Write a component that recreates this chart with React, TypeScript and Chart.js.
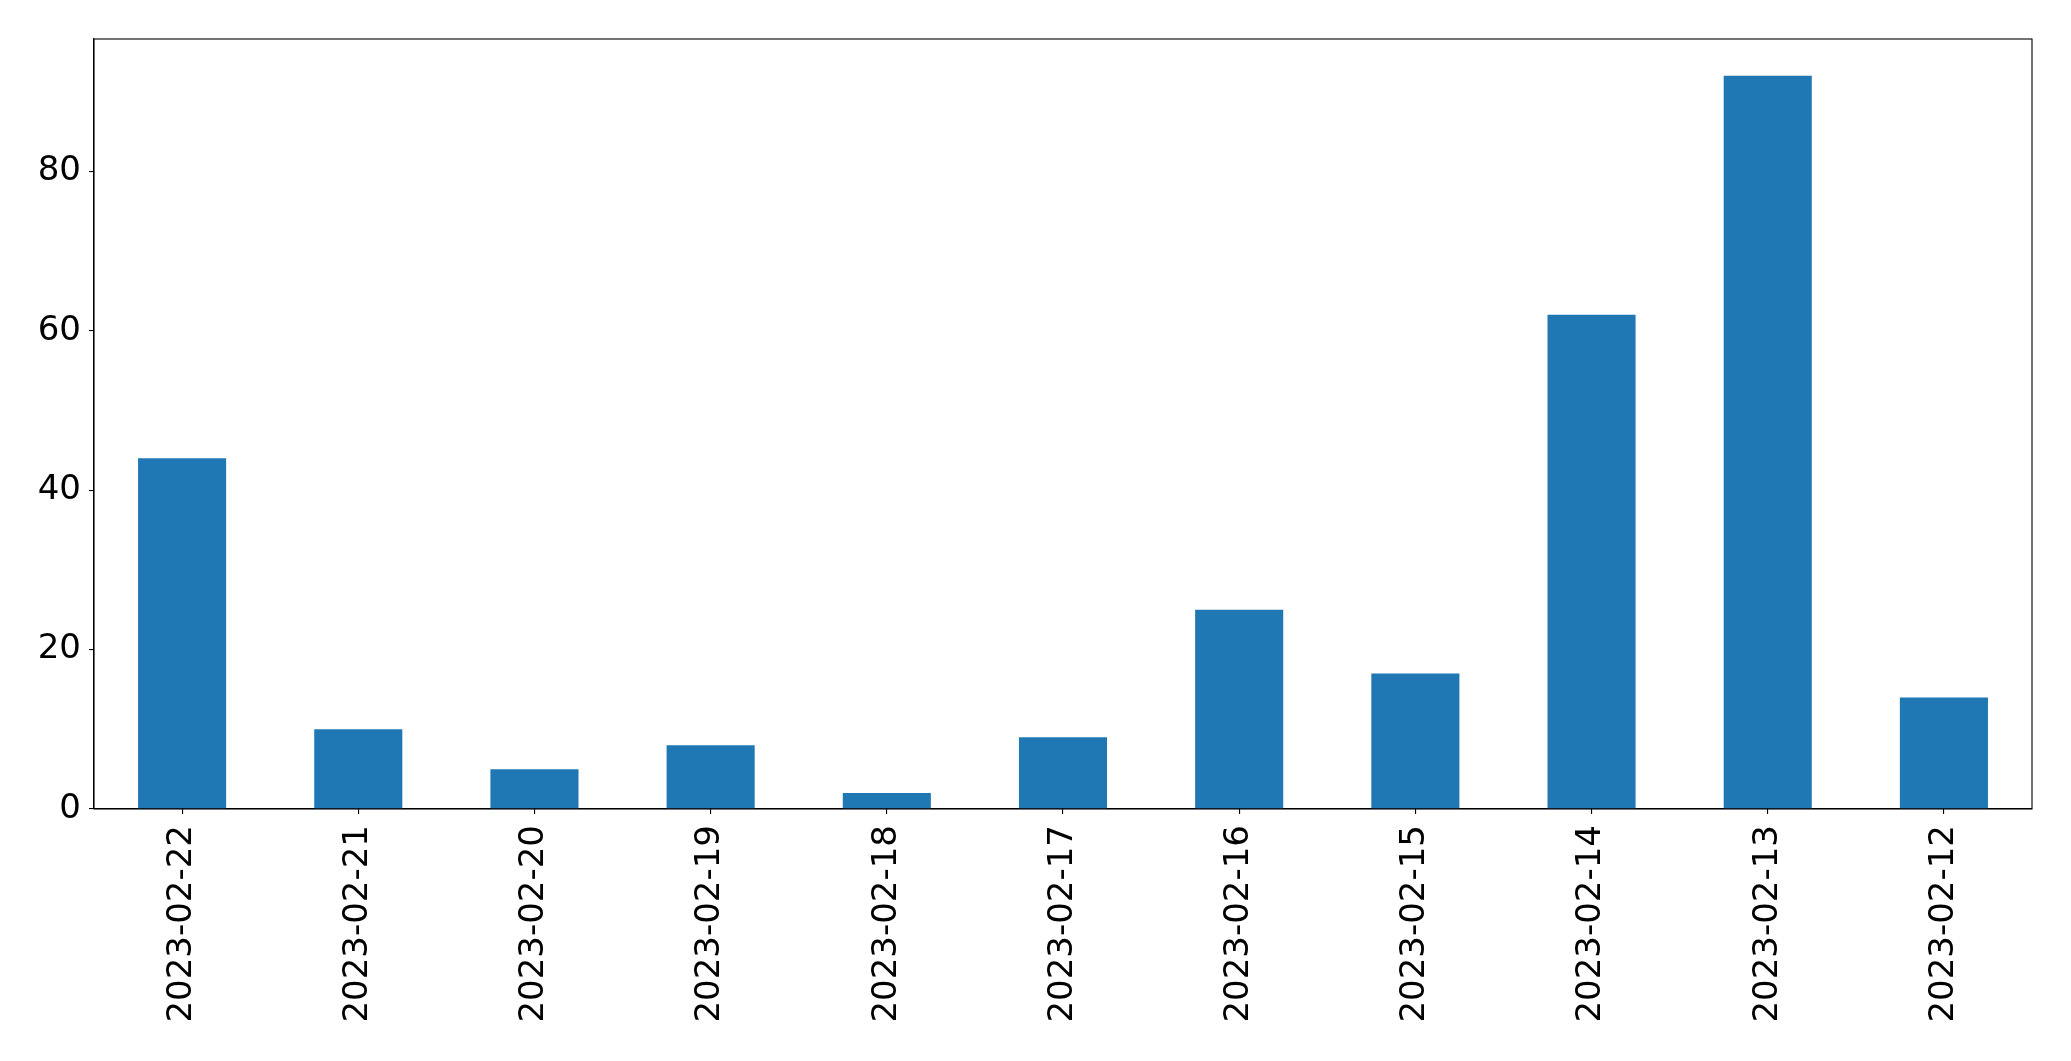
import React, { useEffect, useRef } from "react";
import { Chart, registerables } from "chart.js";

Chart.register(...registerables);

const categories = [
  "2023-02-22", "2023-02-21", "2023-02-20", "2023-02-19", "2023-02-18", "2023-02-17",
  "2023-02-16", "2023-02-15", "2023-02-14", "2023-02-13", "2023-02-12",
];
const values = [44, 10, 5, 8, 2, 9, 25, 17, 62, 92, 14];
const yTicks = [0, 20, 40, 60, 80];
const yMax = 96.6;

const W = 2071;
const H = 1061;
const PLOT_LEFT = 94;
const PLOT_TOP = 39;
const PLOT_RIGHT = 2032;
const PLOT_BOTTOM = 809;

const frame = {
  id: "frame",
  afterDraw(chart: any) {
    const { ctx, chartArea } = chart;
    ctx.save();
    ctx.strokeStyle = "#000";
    ctx.lineWidth = 1.1;
    ctx.strokeRect(chartArea.left, chartArea.top, chartArea.right - chartArea.left, chartArea.bottom - chartArea.top);
    ctx.restore();
  },
};

export default function App() {
  const ref = useRef<HTMLCanvasElement | null>(null);
  useEffect(() => {
    if (!ref.current) return;
    const font = { family: "'DejaVu Sans', sans-serif", size: 34 };
    const chart = new Chart(ref.current, {
      type: "bar",
      data: {
        labels: categories,
        datasets: [
          {
            data: values,
            backgroundColor: "#1f77b4",
            barPercentage: 0.5,
            categoryPercentage: 1,
          },
        ],
      },
      options: {
        animation: false,
        responsive: false,
        maintainAspectRatio: false,
        layout: { padding: { left: 0, top: PLOT_TOP, right: W - PLOT_RIGHT, bottom: 0 } },
        plugins: { legend: { display: false }, tooltip: { enabled: false } },
        scales: {
          x: {
            offset: true,
            grid: { offset: false, drawOnChartArea: false, drawTicks: true, tickLength: 5, color: "#000", lineWidth: 1.1 },
            border: { display: true, color: "#000", width: 1.1 },
            ticks: { color: "#000", font, minRotation: 90, maxRotation: 90, padding: 11, autoSkip: false },
            afterFit(axis: any) {
              axis.height = H - PLOT_BOTTOM;
            },
          },
          y: {
            min: 0,
            max: yMax,
            grid: { drawOnChartArea: false, drawTicks: true, tickLength: 5, color: "#000", lineWidth: 1.1 },
            border: { display: true, color: "#000", width: 1.1 },
            ticks: { color: "#000", font, padding: 8 },
            afterBuildTicks(axis: any) {
              axis.ticks = yTicks.map((v) => ({ value: v }));
            },
            afterFit(axis: any) {
              axis.width = PLOT_LEFT;
            },
          },
        },
      },
      plugins: [frame],
    });
    return () => chart.destroy();
  }, []);
  return (
    <div style={{ position: "fixed", left: 0, top: 0, width: W, height: H, background: "#fff" }}>
      <canvas ref={ref} width={W} height={H} style={{ width: W, height: H, display: "block" }} />
    </div>
  );
}
